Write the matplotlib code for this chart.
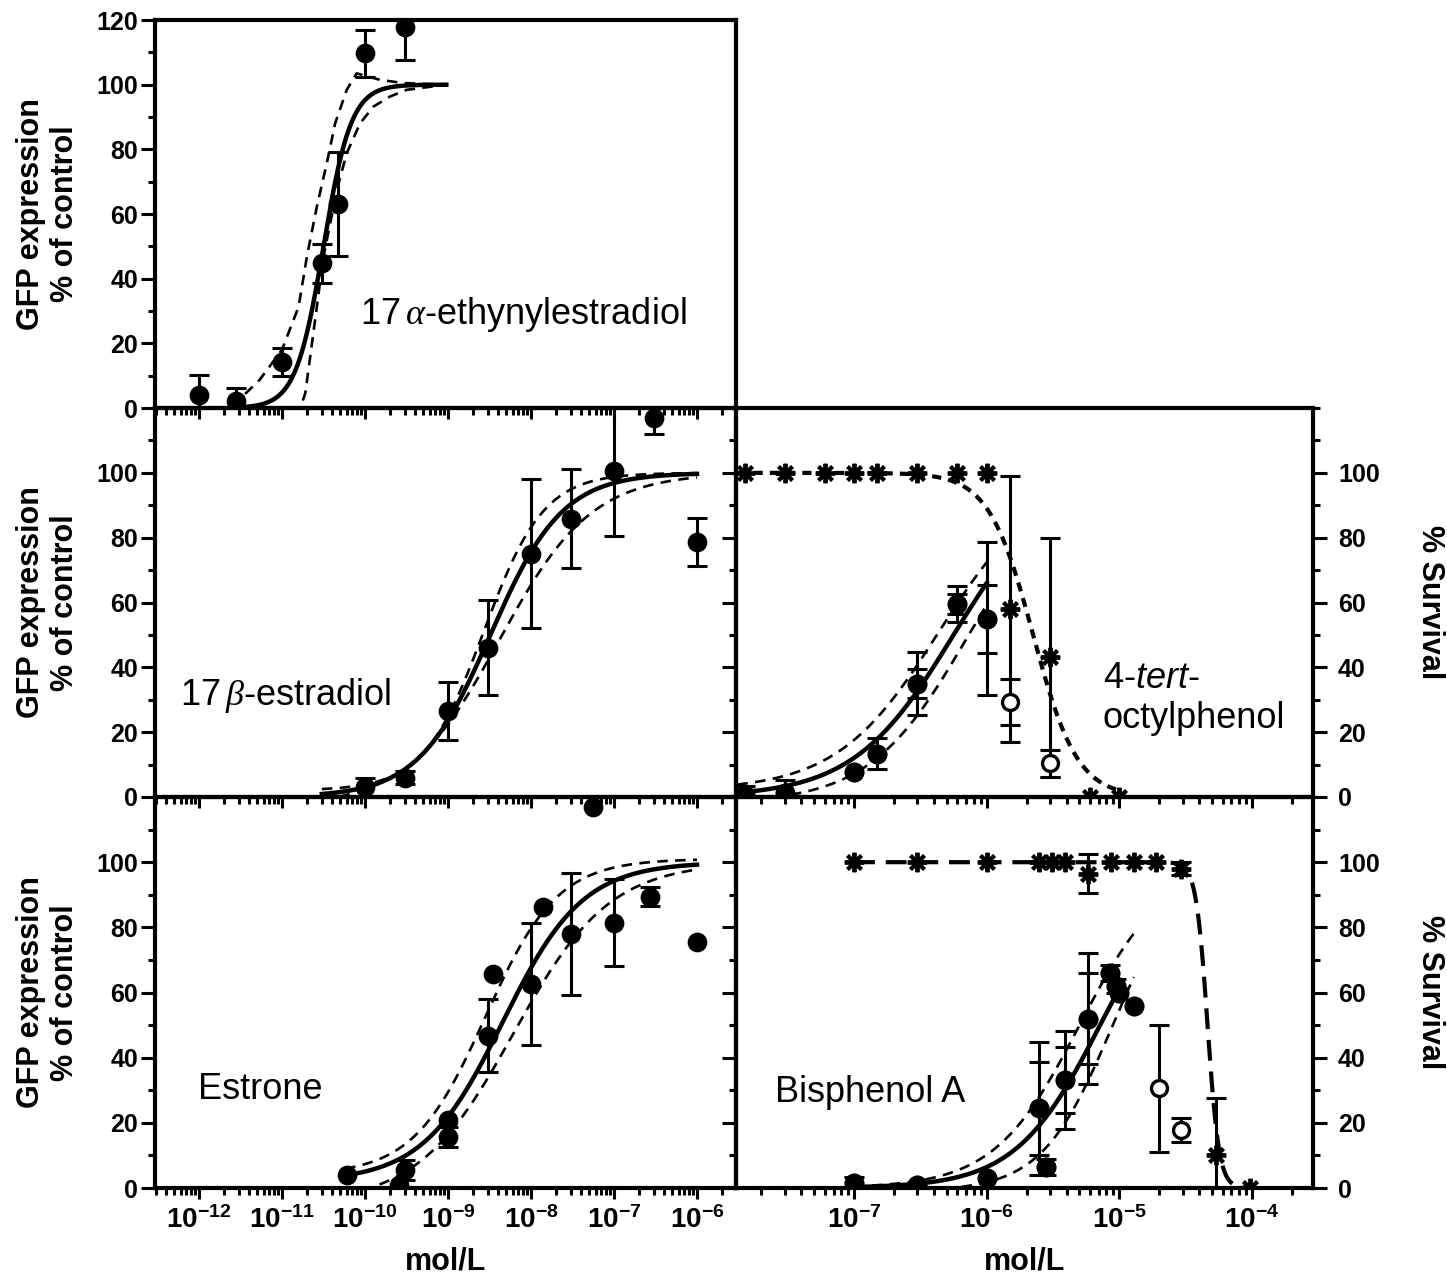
import numpy as np
import matplotlib
matplotlib.use('Agg')
import matplotlib.pyplot as plt
from matplotlib.ticker import LogLocator, FixedLocator, FuncFormatter, NullFormatter

plt.rcParams['font.family'] = ['Liberation Sans', 'DejaVu Sans']
plt.rcParams['font.weight'] = 'bold'
plt.rcParams['mathtext.fontset'] = 'custom'
plt.rcParams['mathtext.rm'] = 'Liberation Sans:weight=normal'
plt.rcParams['mathtext.it'] = 'Liberation Sans:style=italic:weight=normal'
plt.rcParams['mathtext.sf'] = 'Liberation Serif:style=italic:weight=normal'
plt.rcParams['mathtext.bf'] = 'Liberation Sans:weight=bold'

# ---------------- data (mol/L, % of control / % survival) ----------------
# 17a-ethynylestradiol
ee2_conc = [1e-12, 2.8e-12, 1e-11, 3e-11, 4.7e-11, 1e-10, 3e-10]
ee2_gfp = [4.0, 2.2, 14.2, 44.7, 63.0, 109.7, 117.7]
ee2_err = [6.2, 4.1, 4.4, 6.0, 16.1, 7.3, 10.1]
# fit: bottom, top, logEC50, hill slope, log x start, log x end
ee2_fit = [0, 100, -10.5, 2.6, -11.6, -9.02]
# confidence bands (log10 conc, %)
ee2_band_hi_logx = [-11.6, -11.27, -11.0, -10.80, -10.70, -10.58, -10.46, -10.36,
                    -10.22, -10.10, -9.96, -9.82, -9.54, -9.02]
ee2_band_hi_y = [0.5, 8.7, 18.0, 31.3, 46.8, 62.3, 75.7, 88.0, 98.4, 103.5, 102.5,
                 101.5, 100.5, 100.0]
ee2_band_lo_logx = [-11.55, -10.78, -10.72, -10.66, -10.58, -10.50, -10.42, -10.34,
                    -10.22, -10.06, -9.90, -9.70, -9.50, -9.02]
ee2_band_lo_y = [0, 0, 4.5, 15.9, 31.3, 46.8, 57.0, 67.4, 78.8, 88.0, 93.2, 96.3,
                 98.4, 100.0]

# 17b-estradiol
e2_conc = [1e-10, 3e-10, 1e-9, 3e-9, 1e-8, 3e-8, 1e-7, 3e-7, 1e-6]
e2_gfp = [3.0, 6.0, 26.5, 46.1, 75.0, 85.9, 100.5, 117.0, 78.8]
e2_err = [3.0, 2.0, 9.0, 14.7, 23.0, 15.2, 19.9, 5.0, 7.4]
e2_fit = [0, 100, -8.49, 1.0, -10.52, -6.0]
e2_band_hi = [2, 100, -8.57, 1.2, -10.52, -6.0]
e2_band_lo = [-3, 100, -8.38, 0.78, -10.52, -6.0]

# estrone
e1_conc = [6e-11, 2.6e-10, 3e-10, 1e-9, 1e-9, 3e-9, 3.5e-9, 1e-8, 1.4e-8, 3e-8,
           1e-7, 2.7e-7, 1e-6, 5.6e-8]
e1_gfp = [4.0, 0.9, 5.5, 20.9, 15.7, 46.8, 65.8, 62.6, 86.3, 78.0, 81.4, 89.4,
          75.6, 117.0]
e1_err = [0, 0, 3.0, 0, 3.0, 11.1, 0, 18.8, 0, 18.8, 13.3, 3.0, 0, 0]
e1_fit = [2, 100, -8.34, 0.9, -10.24, -6.0]
e1_band_hi = [4, 101, -8.55, 1.0, -10.24, -6.0]
e1_band_lo = [-5, 100, -8.21, 0.75, -10.24, -6.0]

# 4-tert-octylphenol
op_conc = [1.5e-8, 3e-8, 1e-7, 1.5e-7, 3e-7, 6e-7, 1e-6]
op_gfp = [0.5, 1.1, 7.8, 13.4, 35.0, 59.5, 55.0]
op_err = [3.0, 4.0, 0, 4.9, 9.7, 5.6, 23.6]
op_err2 = [0, 0, 0, 0, 4.6, 3.0, 10.5]
op_open_conc = [1.5e-6, 3e-6]
op_open_gfp = [29.3, 10.4]
op_open_err = [7.2, 4.2]
op_surv_conc = [1.5e-8, 3e-8, 6e-8, 1e-7, 1.5e-7, 3e-7, 6e-7, 1e-6, 1.5e-6, 3e-6,
                6e-6, 1e-5]
op_surv = [100, 100, 100, 100, 100, 100, 100, 100, 58.0, 43.1, 0, 0]
op_surv_err = [0, 0, 0, 0, 0, 0, 0, 0, 41.0, 36.9, 0, 0]
op_fit = [0, 100, -6.25, 1.15, -7.88, -6.0]
op_band_hi = [2, 100, -6.36, 1.13, -7.88, -6.0]
op_band_lo = [-2, 100, -6.15, 1.18, -7.88, -6.0]
op_surv_fit = [0, 100, -5.65, -2.6, -7.88, -4.99]

# bisphenol A
bpa_conc = [1e-7, 3e-7, 1e-6, 2.5e-6, 2.8e-6, 3.9e-6, 5.8e-6, 8.5e-6, 9.5e-6,
            1e-5, 1.3e-5]
bpa_gfp = [1.5, 0.9, 3.0, 24.4, 6.5, 33.1, 52.0, 66.0, 62.0, 60.0, 55.8]
bpa_err = [2.0, 0, 0, 20.5, 2.5, 15.0, 20.0, 2.5, 2.0, 0, 0]
bpa_err2 = [0, 0, 0, 14.4, 0, 10.2, 14.0, 0, 0, 0, 0]
bpa_open_conc = [2e-5, 2.9e-5]
bpa_open_gfp = [30.6, 17.8]
bpa_open_err = [19.5, 3.8]
bpa_surv_conc = [1e-7, 3e-7, 1e-6, 2.5e-6, 3.1e-6, 3.9e-6, 5.8e-6, 8.7e-6, 1.3e-5,
                 1.9e-5, 2.9e-5, 5.4e-5, 9.6e-5]
bpa_surv = [100, 100, 100, 100, 100, 100, 96.5, 100, 100, 100, 98.0, 10.1, 0]
bpa_surv_err = [0, 0, 0, 0, 0, 0, 6.0, 0, 0, 0, 2.0, 17.4, 0]
bpa_fit = [0, 100, -5.145, 1.36, -7.0, -4.98]
bpa_band_hi = [0, 100, -5.30, 1.35, -7.0, -4.89]
bpa_band_lo = [-1, 100, -5.055, 1.64, -7.0, -4.89]
bpa_surv_fit = [0, 100, -4.335, -10.0, -7.0, -4.02]


def hill(logx, bottom, top, logec50, slope):
    return bottom + (top - bottom) / (1 + 10 ** (slope * (logec50 - logx)))


def draw_fit(ax, p, ls, lw):
    lx = np.linspace(p[4], p[5], 400)
    ax.plot(10 ** lx, hill(lx, *p[:4]), color='k', ls=ls, lw=lw, zorder=2)


def draw_points(ax, conc, y, err, marker='o', mfc='k', ms=12, mew=2.2):
    conc, y, err = np.asarray(conc), np.asarray(y), np.asarray(err)
    m = err > 0
    if m.any():
        ax.errorbar(conc[m], y[m], yerr=err[m], fmt='none', ecolor='k',
                    elinewidth=2.2, capsize=7.5, capthick=2.2, zorder=3)
    ax.plot(conc, y, ls='none', marker=marker, ms=ms, mfc=mfc, mec='k',
            mew=mew, zorder=4)


SOLID = '-'
BAND = (0, (4, 2.8))
DOT = (0, (2.2, 1.7))
LONGDASH = (0, (5, 2.6))
ASTER = (8, 2, 0)

fig = plt.figure(figsize=(14.47, 12.78), dpi=100)
left_x, left_w = 155 / 1447, 581 / 1447
right_x, right_w = 736 / 1447, 577 / 1447
ax_ee2 = fig.add_axes([left_x, 0.68075, left_w, 0.30360])
ax_e2 = fig.add_axes([left_x, 0.37637, left_w, 0.30438])
ax_e1 = fig.add_axes([left_x, 0.07042, left_w, 0.30595])
ax_op = fig.add_axes([right_x, 0.37637, right_w, 0.30438])
ax_bpa = fig.add_axes([right_x, 0.07042, right_w, 0.30595])

# ---- 17a-ethynylestradiol
ax = ax_ee2
draw_fit(ax, ee2_fit, SOLID, 3.2)
ax.plot(10 ** np.array(ee2_band_hi_logx), ee2_band_hi_y, color='k', ls=BAND, lw=1.9)
ax.plot(10 ** np.array(ee2_band_lo_logx), ee2_band_lo_y, color='k', ls=BAND, lw=1.9)
draw_points(ax, ee2_conc, ee2_gfp, ee2_err)
ax.text(0.353, 0.24, '17$\\,\\mathsf{\\alpha}$-ethynylestradiol', transform=ax.transAxes,
        fontsize=26, fontweight='normal', ha='left', va='center')

# ---- 17b-estradiol
ax = ax_e2
draw_fit(ax, e2_fit, SOLID, 3.2)
draw_fit(ax, e2_band_hi, BAND, 1.9)
draw_fit(ax, e2_band_lo, BAND, 1.9)
draw_points(ax, e2_conc, e2_gfp, e2_err)
ax.text(0.043, 0.262, '17$\\,\\mathsf{\\beta}$-estradiol', transform=ax.transAxes,
        fontsize=26, fontweight='normal', ha='left', va='center')

# ---- estrone
ax = ax_e1
draw_fit(ax, e1_fit, SOLID, 3.2)
draw_fit(ax, e1_band_hi, BAND, 1.9)
draw_fit(ax, e1_band_lo, BAND, 1.9)
draw_points(ax, e1_conc, e1_gfp, e1_err)
ax.text(0.074, 0.251, 'Estrone', transform=ax.transAxes,
        fontsize=26, fontweight='normal', ha='left', va='center')

# ---- 4-tert-octylphenol
ax = ax_op
draw_fit(ax, op_surv_fit, DOT, 3.0)
draw_fit(ax, op_fit, SOLID, 3.2)
draw_fit(ax, op_band_hi, BAND, 1.9)
draw_fit(ax, op_band_lo, BAND, 1.9)
draw_points(ax, op_surv_conc, op_surv, op_surv_err, marker=ASTER, ms=14, mew=2.8)
draw_points(ax, op_conc, op_gfp, op_err)
draw_points(ax, op_conc, op_gfp, op_err2)
draw_points(ax, op_open_conc, op_open_gfp, op_open_err, mfc='white', ms=11.5, mew=2.4)
ax.text(0.636, 0.253, '4-$\\mathit{tert}$-\noctylphenol', transform=ax.transAxes,
        fontsize=26, fontweight='normal', ha='left', va='center', linespacing=1.2)

# ---- bisphenol A
ax = ax_bpa
draw_fit(ax, bpa_surv_fit, LONGDASH, 3.0)
draw_fit(ax, bpa_fit, SOLID, 3.2)
draw_fit(ax, bpa_band_hi, BAND, 1.9)
draw_fit(ax, bpa_band_lo, BAND, 1.9)
draw_points(ax, bpa_surv_conc, bpa_surv, bpa_surv_err, marker=ASTER, ms=14, mew=2.8)
draw_points(ax, bpa_conc, bpa_gfp, bpa_err)
draw_points(ax, bpa_conc, bpa_gfp, bpa_err2)
draw_points(ax, bpa_open_conc, bpa_open_gfp, bpa_open_err, mfc='white', ms=11.5, mew=2.4)
ax.text(0.0676, 0.243, 'Bisphenol A', transform=ax.transAxes,
        fontsize=26, fontweight='normal', ha='left', va='center')

# ---------------- axes styling ----------------
def dec_label(v, pos):
    return r'$\mathbf{10^{%d}}$' % int(round(np.log10(v)))


for ax in [ax_ee2, ax_e2, ax_e1, ax_op, ax_bpa]:
    ax.set_facecolor('none')
    ax.set_xscale('log')
    ax.set_ylim(0, 120)
    ax.xaxis.set_major_locator(LogLocator(base=10, numticks=30))
    ax.xaxis.set_minor_locator(LogLocator(base=10, subs=np.arange(2, 10), numticks=200))
    ax.xaxis.set_major_formatter(FuncFormatter(dec_label))
    ax.xaxis.set_minor_formatter(NullFormatter())
    ax.yaxis.set_minor_locator(FixedLocator(np.arange(0, 121, 10)))
    for s in ax.spines.values():
        s.set_linewidth(3.0)
    ax.tick_params(axis='both', which='both', direction='out', width=2.2, top=False)
    ax.tick_params(axis='x', which='major', length=8, pad=5, labelsize=20)
    ax.tick_params(axis='x', which='minor', length=5)
    ax.tick_params(axis='y', which='major', length=10, labelsize=18)
    ax.tick_params(axis='y', which='minor', length=5)

for ax in [ax_ee2, ax_e2, ax_e1]:
    ax.set_xlim(10 ** -12.53, 10 ** -5.53)
    ax.tick_params(axis='y', which='both', left=True, right=False, pad=2)
    ax.set_ylabel('GFP expression\n% of control', fontsize=22, fontweight='bold',
                  va='center', ha='center', multialignment='center', linespacing=1.15)
    ax.yaxis.set_label_coords(-0.184, 0.5)

ax_ee2.yaxis.set_major_locator(FixedLocator(np.arange(0, 121, 20)))
ax_e2.yaxis.set_major_locator(FixedLocator(np.arange(0, 101, 20)))
ax_e1.yaxis.set_major_locator(FixedLocator(np.arange(0, 101, 20)))

for ax in [ax_op, ax_bpa]:
    ax.set_xlim(10 ** -7.89, 10 ** -3.54)
    ax.yaxis.set_major_locator(FixedLocator(np.arange(0, 101, 20)))
    ax.tick_params(axis='y', which='both', left=True, right=True,
                   labelleft=False, labelright=True, pad=8)
    ax.yaxis.set_label_position('right')
    ax.set_ylabel('% Survival', fontsize=22, fontweight='bold', rotation=270,
                  va='center', ha='center')
    ax.yaxis.set_label_coords(1.203, 0.5)

for ax in [ax_ee2, ax_e2, ax_op]:
    ax.tick_params(axis='x', which='both', labelbottom=False)

for ax in [ax_e1, ax_bpa]:
    ax.set_xlabel('mol/L', fontsize=22, fontweight='bold', va='center')
    ax.xaxis.set_label_coords(0.5, -0.189)

fig.savefig('out.png', dpi=100)
